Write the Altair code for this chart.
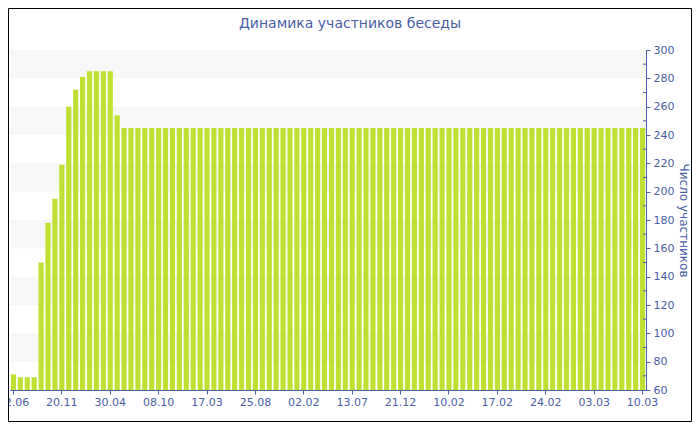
import altair as alt
import pandas as pd

# ---- data ----
values = [71, 69, 69, 69, 150, 178, 195, 219, 260, 272, 281, 285, 285, 285, 285, 254] + [245] * 76
tick_labels = ["12.06", "20.11", "30.04", "08.10", "17.03", "25.08", "02.02",
               "13.07", "21.12", "10.02", "17.02", "24.02", "03.03", "10.03"]
band_lows = [80, 120, 160, 200, 240, 280]
minor_ticks = [70, 90, 110, 130, 150, 170, 190, 210, 230, 250, 270, 290]
y_min, y_max = 60, 300
label_every = 7

title_text = "Динамика участников беседы"
y_title = "Число участников"

# ---- styling ----
W, H = 636, 340
PAD = {"left": 2, "top": 42, "right": 46, "bottom": 32}
TOTAL_W = PAD["left"] + W + PAD["right"]
TOTAL_H = PAD["top"] + H + PAD["bottom"]
BLUE = "#4a5ea6"
BAR = "#bfe032"
BAND = "#f7f7f7"
FONT = "DejaVu Sans"

df = pd.DataFrame({"i": list(range(len(values))), "v": values})
bands = pd.DataFrame({"lo": band_lows, "hi": [b + 20 for b in band_lows]})
minor = pd.DataFrame({"m": minor_ticks})
single = pd.DataFrame({"t": [title_text]})

yscale = alt.Scale(domain=[y_min, y_max], zero=False, nice=False)
yaxis = alt.Axis(orient="right", values=list(range(y_min, y_max + 1, 20)),
                 title=y_title, titleColor=BLUE, titleFont=FONT,
                 titleFontSize=12, titleFontWeight="normal",
                 titlePadding=3, grid=False,
                 domainColor=BLUE, tickColor=BLUE, labelColor=BLUE,
                 tickSize=4, labelPadding=3,
                 labelFont=FONT, labelFontSize=11)
label_js = "[" + ",".join(f"'{t}'" for t in tick_labels) + "]"

band_layer = alt.Chart(bands).mark_rect(color=BAND).encode(
    x=alt.value(0), x2=alt.value(W),
    y=alt.Y("lo:Q", scale=yscale, axis=yaxis), y2="hi:Q",
)

bar_layer = alt.Chart(df).mark_bar(color=BAR).encode(
    x=alt.X("i:O",
            scale=alt.Scale(paddingInner=0.25, paddingOuter=0.125),
            axis=alt.Axis(values=list(range(0, len(values), label_every)),
                          labelExpr=f"{label_js}[datum.value/{label_every}]",
                          labelAngle=0, title=None,
                          domainColor=BLUE, tickColor=BLUE, labelColor=BLUE,
                          tickSize=4, labelPadding=2,
                          labelFont=FONT, labelFontSize=11)),
    y=alt.Y("v:Q", scale=yscale, axis=yaxis),
    y2=alt.datum(y_min),
)

minor_layer = alt.Chart(minor).mark_rule(color=BLUE, strokeWidth=1).encode(
    x=alt.value(W - 3), x2=alt.value(W),
    y=alt.Y("m:Q", scale=yscale, axis=yaxis),
)

title_layer = alt.Chart(single).mark_text(
    font=FONT, fontSize=14, color=BLUE, align="center", baseline="alphabetic"
).encode(
    text="t:N",
    x=alt.value(TOTAL_W / 2 - PAD["left"]),
    y=alt.value(20 - PAD["top"]),
)

frame_layer = alt.Chart(single).mark_rect(filled=False, stroke="black", strokeWidth=1).encode(
    x=alt.value(0.5 - PAD["left"]), x2=alt.value(TOTAL_W - 0.5 - PAD["left"]),
    y=alt.value(0.5 - PAD["top"]), y2=alt.value(TOTAL_H - 0.5 - PAD["top"]),
)

chart = alt.layer(band_layer, bar_layer, minor_layer, title_layer, frame_layer).properties(
    width=W, height=H,
    autosize=alt.AutoSizeParams(type="none"),
    padding=PAD,
).configure_view(stroke=None)

chart.save("out.html", embed_options={"renderer": "svg", "actions": False})
